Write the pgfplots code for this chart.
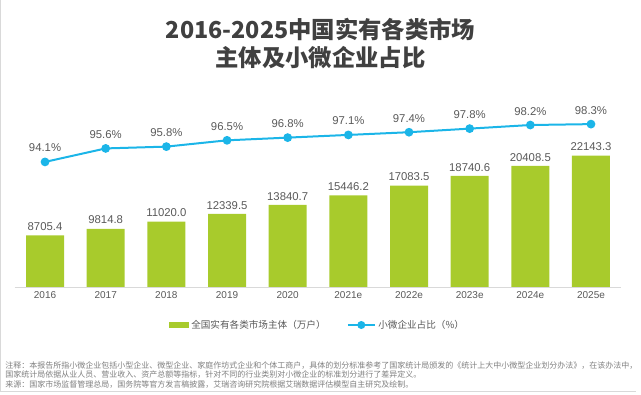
\documentclass[border=0pt]{standalone}
\usepackage{pgfplots}
\pgfplotsset{compat=1.18}
\usepackage{fontspec}
\setmainfont{Liberation Sans}
\newfontfamily\cjk{Noto Sans CJK SC}
\definecolor{barcol}{HTML}{A8CB2C}
\definecolor{linecol}{HTML}{1BB5E8}
\definecolor{txt}{HTML}{595959}
\definecolor{ttl}{HTML}{404040}
\definecolor{note}{HTML}{7F7F7F}
\begin{document}
\begin{tikzpicture}[x=0.75pt,y=0.75pt]
\useasboundingbox (0,0) rectangle (641,395);
\draw[gray!30, line width=0.75pt] (0.6,395) -- (0.6,3) -- (636,3);
\node[font=\cjk\bfseries\fontsize{17.5}{21}\selectfont, text=ttl, align=center] at (320.5,351) {2016-2025中国实有各类市场\\主体及小微企业占比};
\begin{axis}[at={(11.025pt,81pt)}, anchor=south west, scale only axis,
  width=454.95pt, height=132.75pt,
  xmin=-0.5, xmax=9.5, ymin=0, ymax=29850,
  axis y line=none, axis x line*=bottom,
  x axis line style={draw=gray!30, -},
  xtick={0,...,9},
  xticklabels={2016,2017,2018,2019,2020,2021e,2022e,2023e,2024e,2025e},
  major tick length=0pt,
  xticklabel style={font=\fontsize{7.5}{9}\selectfont, text=txt},
  ybar, bar width=28.5pt,
  nodes near coords={\pgfmathprintnumber[fixed,zerofill,precision=1,1000 sep={},assume math mode=true]{\pgfplotspointmeta}},
  every node near coord/.append style={font=\fontsize{8.5}{10}\selectfont, text=txt},
]
\addplot[fill=barcol, draw=none] coordinates {
(0,8705.4) (1,9814.8) (2,11020.0) (3,12339.5) (4,13840.7)
(5,15446.2) (6,17083.5) (7,18740.6) (8,20408.5) (9,22143.3)};
\end{axis}
\begin{axis}[at={(11.025pt,81pt)}, anchor=south west, scale only axis,
  width=454.95pt, height=132.75pt,
  xmin=-0.5, xmax=9.5, ymin=80.2, ymax=99.87,
  hide axis,
  nodes near coords={\pgfmathprintnumber[fixed,zerofill,precision=1,assume math mode=true]{\pgfplotspointmeta}\%},
  every node near coord/.append style={font=\fontsize{8.5}{10}\selectfont, text=txt, yshift=3.3pt},
  legend style={at={(0.5,-0.2147)}, anchor=center, draw=none, fill=none,
    font=\cjk\fontsize{7.2}{9}\selectfont, text=txt,
    /tikz/every even column/.append style={column sep=14pt}},
  legend columns=2,
]
\addlegendimage{legend image code/.code={\fill[barcol] (0pt,-1.8pt) rectangle (14pt,1.8pt);}}
\addlegendentry{全国实有各类市场主体（万户）}
\addplot[color=linecol, line width=1.5pt, mark=*, mark size=2.5pt,
  legend image code/.code={\draw[linecol, line width=1.5pt] (0pt,0pt) -- (20pt,0pt); \fill[linecol] (10pt,0pt) circle (2.2pt);}]
  coordinates {
(0,94.1) (1,95.6) (2,95.8) (3,96.5) (4,96.8)
(5,97.1) (6,97.4) (7,97.8) (8,98.2) (9,98.3)};
\addlegendentry{小微企业占比（\%）}
\end{axis}
\node[anchor=west, inner sep=0pt, font=\cjk\fontsize{6}{7}\selectfont, text=note] at (5,29.7) {注释：本报告所指小微企业包括小型企业、微型企业、家庭作坊式企业和个体工商户，具体的划分标准参考了国家统计局颁发的《统计上大中小微型企业划分办法》，在该办法中，};
\node[anchor=west, inner sep=0pt, font=\cjk\fontsize{6}{7}\selectfont, text=note] at (5,20) {国家统计局依据从业人员、营业收入、资产总额等指标，针对不同的行业类别对小微企业的标准划分进行了差异定义。};
\node[anchor=west, inner sep=0pt, font=\cjk\fontsize{6}{7}\selectfont, text=note] at (5,10.7) {来源：国家市场监督管理总局，国务院等官方发言稿披露，艾瑞咨询研究院根据艾瑞数据评估模型自主研究及绘制。};
\end{tikzpicture}
\end{document}
